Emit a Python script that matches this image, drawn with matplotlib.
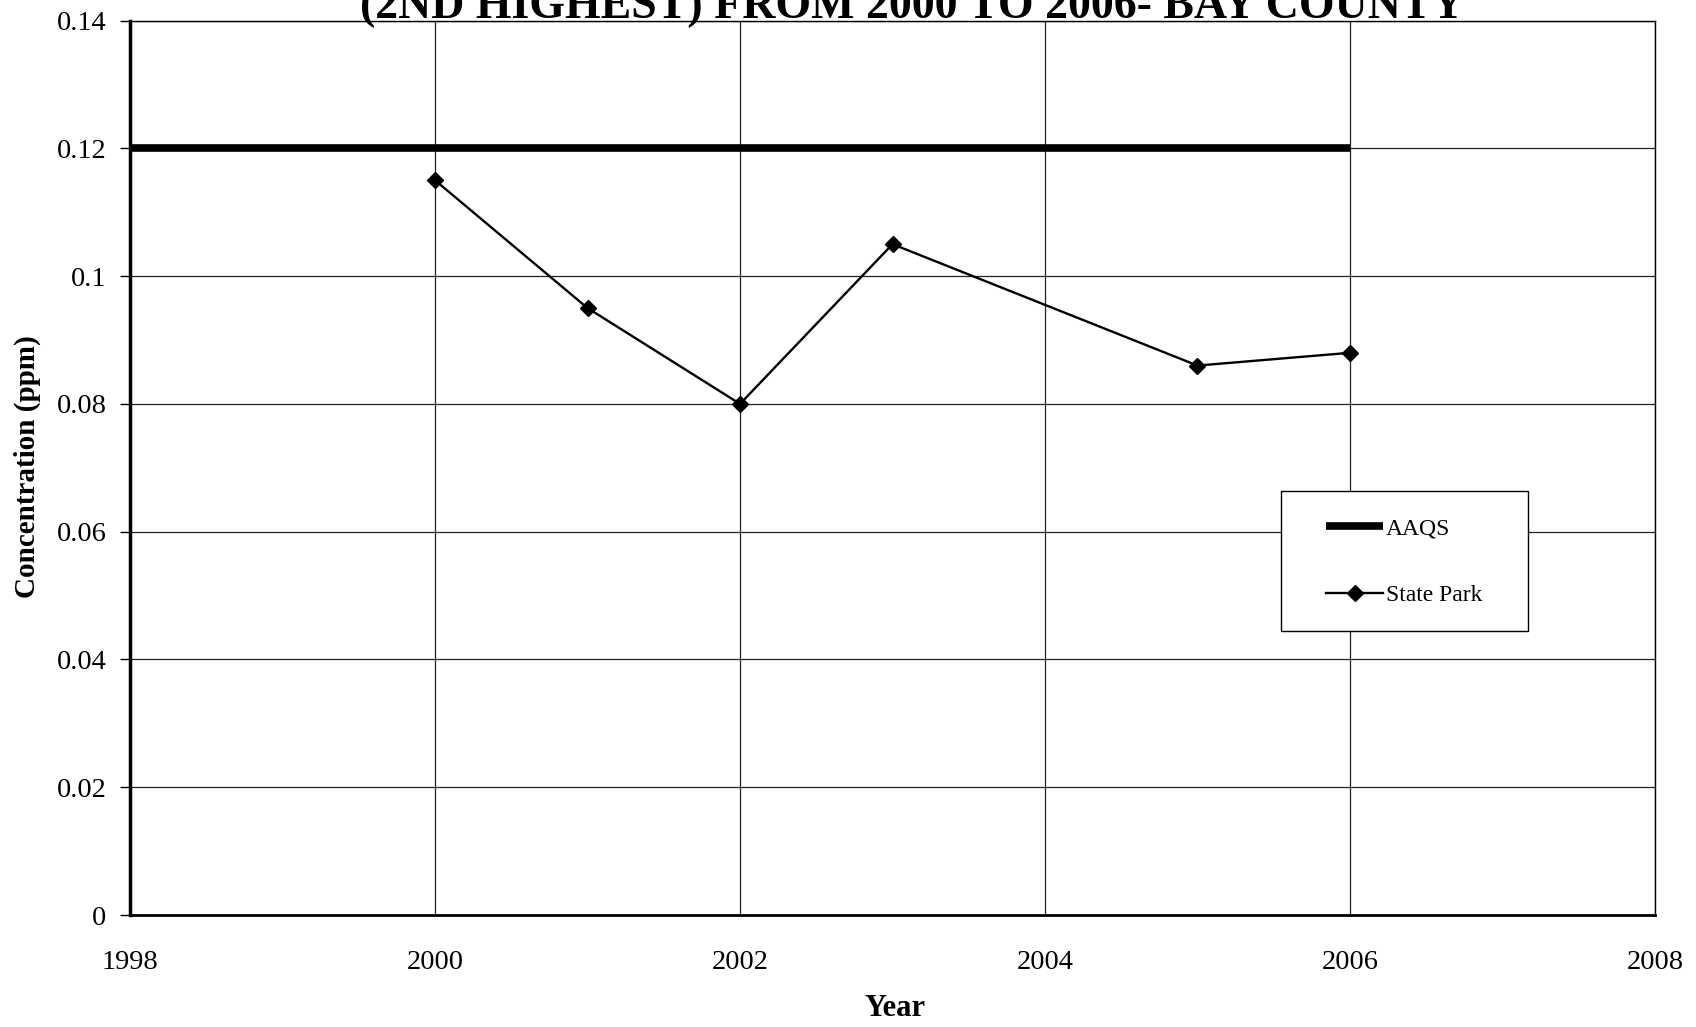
import matplotlib
matplotlib.use("Agg")
import matplotlib.pyplot as plt
from matplotlib.patches import Rectangle

plt.rcParams["font.family"] = ["Liberation Serif", "DejaVu Serif"]

# datos de ozono (segundo maximo anual)
anios_parque = [2000, 2001, 2002, 2003, 2005, 2006]
conc_parque = [0.115, 0.095, 0.080, 0.105, 0.086, 0.088]

anios_aaqs = [1998, 2006]
conc_aaqs = [0.12, 0.12]

xticks = [1998, 2000, 2002, 2004, 2006, 2008]
yticks = [0, 0.02, 0.04, 0.06, 0.08, 0.10, 0.12, 0.14]
ytick_labels = ["0", "0.02", "0.04", "0.06", "0.08", "0.1", "0.12", "0.14"]

titulo = "(2ND HIGHEST) FROM 2000 TO 2006- BAY COUNTY"

fig = plt.figure(figsize=(16.96, 10.27), dpi=100)
ax = fig.add_axes([0.0767, 0.109, 0.8991, 0.871])

ax.plot(anios_aaqs, conc_aaqs, color="black", lw=5.5, label="AAQS", solid_capstyle="butt")
ax.plot(anios_parque, conc_parque, color="black", lw=1.7, marker="D",
        markersize=8, label="State Park")

ax.set_xlim(1998, 2008)
ax.set_ylim(0, 0.14)
ax.set_xticks(xticks)
ax.set_yticks(yticks)
ax.set_yticklabels(ytick_labels)
ax.grid(True, color="#222222", lw=0.9)
ax.set_axisbelow(True)

ax.tick_params(axis="y", direction="out", length=7, width=1, pad=10, labelsize=20.5)
ax.tick_params(axis="x", direction="out", length=0, pad=25, labelsize=20.5)

ax.spines["left"].set_linewidth(2.5)
ax.spines["bottom"].set_linewidth(2.0)
ax.spines["top"].set_linewidth(1.0)
ax.spines["right"].set_linewidth(1.0)

ax.set_xlabel("Year", fontsize=22, fontweight="bold", va="center")
ax.xaxis.set_label_coords(0.5016, -0.105)
ax.set_ylabel("Concentration (ppm)", fontsize=21, fontweight="bold", va="center")
ax.yaxis.set_label_coords(-0.0675, 0.501)

# caja de la leyenda dibujada aparte para dejar mas margen a los lados
ax.add_patch(Rectangle((0.7548, 0.3175), 0.1619, 0.1565, transform=ax.transAxes,
                       facecolor="white", edgecolor="black", lw=1.0, zorder=4))
leg = ax.legend(loc="center left", bbox_to_anchor=(0.784, 0.3946), fontsize=17,
                frameon=False, handlelength=2.45, handletextpad=0.1,
                labelspacing=1.9, borderpad=0, borderaxespad=0)
leg.set_zorder(5)

fig.text(0.5377, 0.9825, titulo, ha="center", va="baseline",
         fontsize=33, fontweight="bold")

fig.savefig("out.png", dpi=100)
